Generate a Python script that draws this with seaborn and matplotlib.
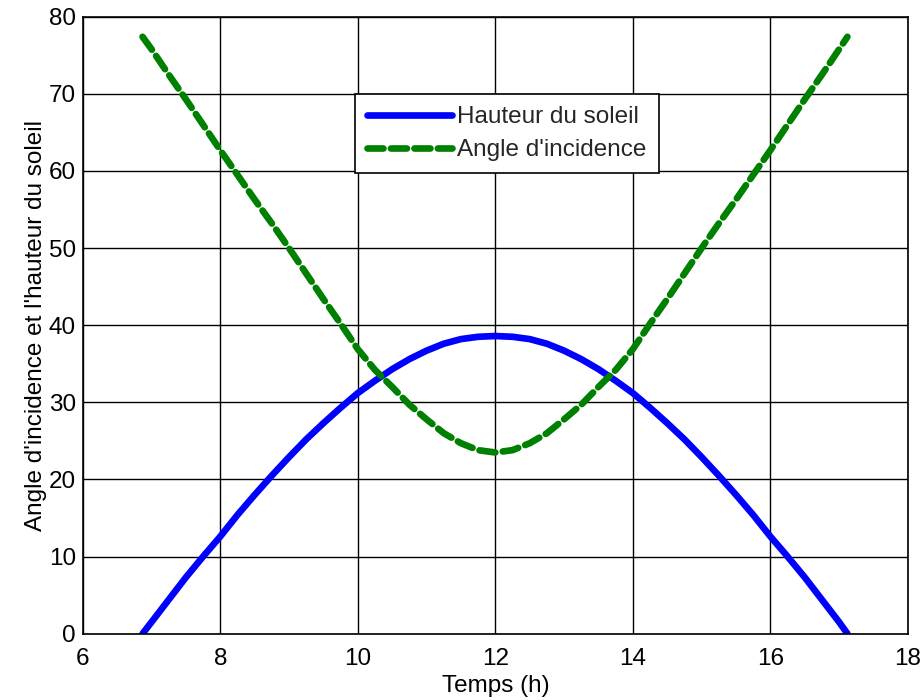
import matplotlib
matplotlib.use("Agg")
import matplotlib.pyplot as plt
import seaborn as sns
import pandas as pd

# Time (h)
temps = [6.87, 7.0, 7.25, 7.5, 7.75, 8.0, 8.25, 8.5, 8.75, 9.0, 9.25, 9.5, 9.75, 10.0, 10.25,
         10.5, 10.75, 11.0, 11.25, 11.5, 11.75, 12.0, 12.25, 12.5, 12.75, 13.0, 13.25,
         13.5, 13.75, 14.0, 14.25, 14.5, 14.75, 15.0, 15.25, 15.5, 15.75, 16.0, 16.25,
         16.5, 16.75, 17.0, 17.12]
# Hauteur du soleil (deg)
hauteur = [0.0, 1.5, 4.4, 7.3, 10.0, 12.6, 15.4, 18.0, 20.5, 22.9, 25.2, 27.3, 29.3, 31.2, 32.8,
           34.3, 35.6, 36.7, 37.6, 38.2, 38.5, 38.6, 38.5, 38.2, 37.6, 36.7, 35.6,
           34.3, 32.8, 31.2, 29.3, 27.3, 25.2, 22.9, 20.5, 18.0, 15.4, 12.6, 10.0,
           7.3, 4.4, 1.5, 0.0]
# Angle d'incidence (deg)
incidence = [77.4, 75.8, 72.5, 69.3, 66.0, 62.7, 59.5, 56.3, 53.2, 50.0, 46.7, 43.4, 40.2, 36.9, 34.2,
             32.0, 29.7, 27.8, 26.0, 24.7, 23.8, 23.5, 23.8, 24.7, 26.0, 27.8, 29.7,
             32.0, 34.2, 36.9, 40.2, 43.4, 46.7, 50.0, 53.2, 56.3, 59.5, 62.7, 66.0,
             69.3, 72.5, 75.8, 77.4]

labels = ["Hauteur du soleil", "Angle d'incidence"]
xticks = [6, 8, 10, 12, 14, 16, 18]
yticks = [0, 10, 20, 30, 40, 50, 60, 70, 80]

df = pd.DataFrame({"t": temps, "h": hauteur, "i": incidence})

sns.set_theme(style="white")
plt.rcParams["font.family"] = ["Liberation Sans", "DejaVu Sans"]

FS = 17.5
fig = plt.figure(figsize=(9.23, 7.0), dpi=100)
ax = fig.add_axes([0.0896, 0.0947, 0.9837 - 0.0896, 0.9761 - 0.0947])

sns.lineplot(data=df, x="t", y="h", ax=ax, color="#0000ff", lw=4.8,
             solid_capstyle="round", solid_joinstyle="round", label=labels[0])
sns.lineplot(data=df, x="t", y="i", ax=ax, color="#008000", lw=4.8,
             dash_capstyle="round", dash_joinstyle="round", label=labels[1])
ax.lines[1].set_dashes([2.4, 1.12])

ax.set_xlim(6, 18)
ax.set_ylim(0, 80)
ax.set_xticks(xticks)
ax.set_yticks(yticks)
ax.grid(True, color="black", lw=1.0, ls="-")
ax.set_axisbelow(True)
for s in ax.spines.values():
    s.set_color("black")
    s.set_linewidth(1.2)
    s.set_visible(True)
ax.tick_params(axis="both", length=0, labelsize=FS, colors="black")
ax.tick_params(axis="x", pad=10)
ax.tick_params(axis="y", pad=5)
ax.set_xlabel("Temps (h)", fontsize=FS, color="black", labelpad=4)
ax.set_ylabel("Angle d'incidence et l'hauteur du soleil", fontsize=FS, color="black", labelpad=1)

leg = ax.legend(loc="upper left", bbox_to_anchor=(0.33, 0.8747), fontsize=FS,
                frameon=True, fancybox=False, framealpha=1, edgecolor="black",
                handlelength=3.5, handletextpad=0.2, borderpad=0.5, labelspacing=0.45,
                borderaxespad=0)
leg.get_frame().set_linewidth(1.2)

fig.savefig("out.png", dpi=100)
